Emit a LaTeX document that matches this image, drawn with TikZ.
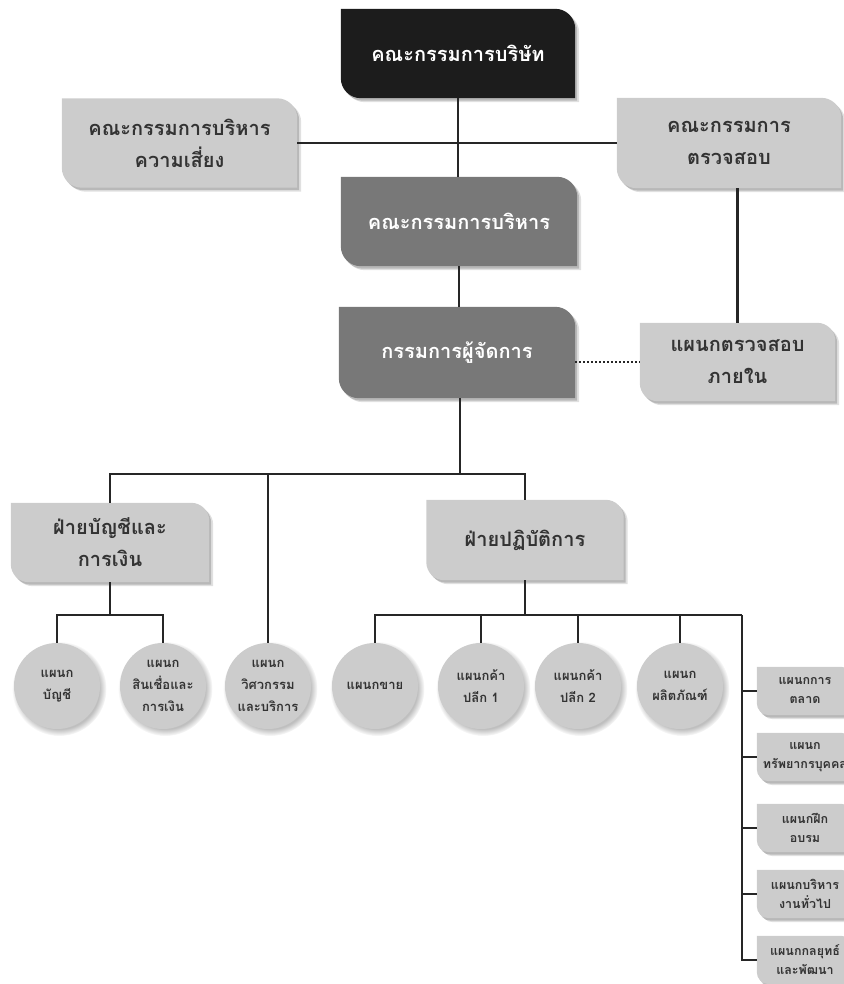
\documentclass[tikz,border=0pt]{standalone}
\usepackage{fontspec}
\newfontfamily\thaifont[Script=Thai]{Loma}
\usetikzlibrary{backgrounds,shadows}
\definecolor{cDark}{HTML}{1C1C1C}
\definecolor{cMid}{HTML}{787878}
\definecolor{cLight}{HTML}{CCCCCC}
\definecolor{cText}{HTML}{333333}
\definecolor{cLine}{HTML}{262626}
\newcommand\orgbg[3]{%
\begin{pgfonlayer}{background}
\fill[black,opacity=.12] ([shift={(4pt,-4pt)}]#1.north west) -- ([shift={(4pt,-4pt)},xshift=-#3]#1.north east) arc[start angle=90,end angle=0,radius=#3] -- ([shift={(4pt,-4pt)}]#1.south east) -- ([shift={(4pt,-4pt)},xshift=#3]#1.south west) arc[start angle=270,end angle=180,radius=#3] -- cycle;
\fill[black,opacity=.18] ([shift={(2pt,-2.5pt)}]#1.north west) -- ([shift={(2pt,-2.5pt)},xshift=-#3]#1.north east) arc[start angle=90,end angle=0,radius=#3] -- ([shift={(2pt,-2.5pt)}]#1.south east) -- ([shift={(2pt,-2.5pt)},xshift=#3]#1.south west) arc[start angle=270,end angle=180,radius=#3] -- cycle;
\fill[#2] (#1.north west) -- ([xshift=-#3]#1.north east) arc[start angle=90,end angle=0,radius=#3] -- (#1.south east) -- ([xshift=#3]#1.south west) arc[start angle=270,end angle=180,radius=#3] -- cycle;
\end{pgfonlayer}}
\begin{document}
\begin{tikzpicture}[x=1pt,y=1pt,
  bigbox/.style 2 args={minimum width=#1, minimum height=#2, inner sep=0pt, align=center,
     font=\thaifont\bfseries\fontsize{20}{32}\selectfont},
  smallbox/.style={minimum width=96pt, minimum height=48pt, inner sep=0pt, align=center,
     text=cText, font=\thaifont\bfseries\fontsize{12.5}{19}\selectfont},
  circ/.style={circle, fill=cLight, minimum size=86pt, inner sep=0pt, align=center, text=cText,
     font=\thaifont\bfseries\fontsize{13}{22}\selectfont,
     circular drop shadow={shadow xshift=2pt, shadow yshift=-2.5pt, opacity=.25, fill=black}},
  mainline/.style={draw=cLine, line width=2.8pt},
  subline/.style={draw=cLine, line width=2pt},
  dotline/.style={draw=cLine, line width=2.2pt, dash pattern=on 1.5pt off 2.5pt}]
\useasboundingbox (0,0) rectangle (843,-984);
\clip (0,0) rectangle (843,-984);
% main boxes
\node[bigbox={234pt}{89pt}, text=white] (board) at (458,-53.5) {คณะกรรมการบริษัท};
\node[bigbox={235pt}{89pt}, text=cText] (risk) at (179.5,-143) {คณะกรรมการบริหาร\\ความเสี่ยง};
\node[bigbox={224pt}{90pt}, text=cText] (audit) at (729,-143) {คณะกรรมการ\\ตรวจสอบ};
\node[bigbox={236pt}{89pt}, text=white] (exec) at (459,-221.5) {คณะกรรมการบริหาร};
\node[bigbox={236pt}{91pt}, text=white] (mgr) at (457,-352.5) {กรรมการผู้จัดการ};
\node[bigbox={195pt}{78pt}, text=cText] (ia) at (737.5,-362) {แผนกตรวจสอบ\\ภายใน};
\node[bigbox={198pt}{79pt}, text=cText] (fin) at (110,-542.5) {ฝ่ายบัญชีและ\\การเงิน};
\node[bigbox={197pt}{80pt}, text=cText] (ops) at (525,-540) {ฝ่ายปฏิบัติการ};
\orgbg{board}{cDark}{20pt}
\orgbg{risk}{cLight}{20pt}
\orgbg{audit}{cLight}{20pt}
\orgbg{exec}{cMid}{20pt}
\orgbg{mgr}{cMid}{20pt}
\orgbg{ia}{cLight}{18pt}
\orgbg{fin}{cLight}{18pt}
\orgbg{ops}{cLight}{18pt}
% circles
\node[circ] (c1) at (57,-686) {แผนก\\บัญชี};
\node[circ] (c2) at (163,-686) {แผนก\\สินเชื่อและ\\การเงิน};
\node[circ] (c3) at (268,-686) {แผนก\\วิศวกรรม\\และบริการ};
\node[circ] (c4) at (375,-686) {แผนกขาย};
\node[circ] (c5) at (481,-686) {แผนกค้า\\ปลีก 1};
\node[circ] (c6) at (578,-686) {แผนกค้า\\ปลีก 2};
\node[circ] (c7) at (680,-686) {แผนก\\ผลิตภัณฑ์};
% right small boxes
\node[smallbox] (r1) at (805,-691) {แผนกการ\\ตลาด};
\node[smallbox] (r2) at (805,-757) {แผนก\\ทรัพยากรบุคคล};
\node[smallbox] (r3) at (805,-828) {แผนกฝึก\\อบรม};
\node[smallbox] (r4) at (805,-894) {แผนกบริหาร\\งานทั่วไป};
\node[smallbox] (r5) at (805,-960) {แผนกกลยุทธ์\\และพัฒนา};
\orgbg{r1}{cLight}{12pt}
\orgbg{r2}{cLight}{12pt}
\orgbg{r3}{cLight}{12pt}
\orgbg{r4}{cLight}{12pt}
\orgbg{r5}{cLight}{12pt}
% connectors
\draw[mainline] (board.south) -- (board.south |- exec.north);
\draw[mainline] (risk.east) -- (audit.west);
\draw[mainline] (exec.south) -- (exec.south |- mgr.north);
\draw[mainline] (audit.south -| ia.north) -- (ia.north);
\draw[dotline] (ia.west -| mgr.east) -- (ia.west);
\coordinate (j1) at (460,-474);
\draw[mainline] (mgr.south -| j1) -- (j1);
\draw[mainline] (fin.north) |- (j1);
\draw[mainline] (ops.north) |- (j1);
\draw[subline] (c3.north) -- (c3.north |- j1);
\coordinate (j2) at (110,-615);
\draw[mainline] (fin.south) -- (j2);
\draw[subline] (c1.north) |- (j2);
\draw[subline] (c2.north) |- (j2);
\coordinate (j3) at (525,-615);
\coordinate (j4) at (742,-615);
\draw[mainline] (ops.south) -- (j3);
\draw[subline] (c4.north) |- (j4);
\draw[subline] (c5.north) -- (c5.north |- j3);
\draw[subline] (c6.north) -- (c6.north |- j3);
\draw[subline] (c7.north) -- (c7.north |- j3);
\draw[subline] (j4) |- (r5.west);
\draw[subline] (r1.west -| j4) -- (r1.west);
\draw[subline] (r2.west -| j4) -- (r2.west);
\draw[subline] (r3.west -| j4) -- (r3.west);
\draw[subline] (r4.west -| j4) -- (r4.west);
\end{tikzpicture}
\end{document}
